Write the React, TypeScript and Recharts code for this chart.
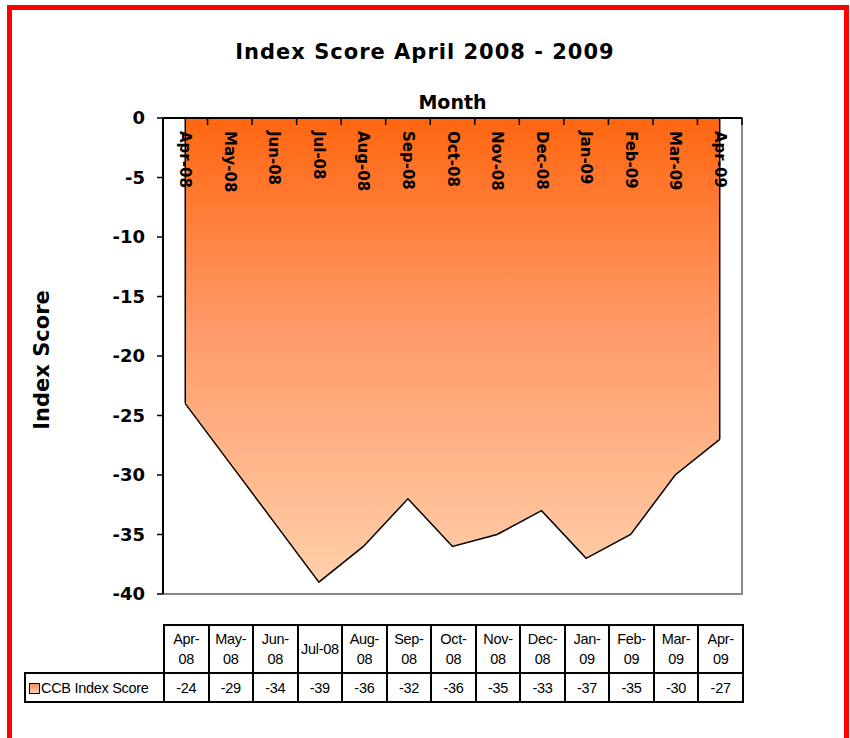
import {
  Area,
  AreaChart,
  ReferenceArea,
  ReferenceLine,
  XAxis,
  YAxis,
} from "recharts";

const months = [
  "Apr-08", "May-08", "Jun-08", "Jul-08", "Aug-08", "Sep-08", "Oct-08",
  "Nov-08", "Dec-08", "Jan-09", "Feb-09", "Mar-09", "Apr-09",
];
const scores = [-24, -29, -34, -39, -36, -32, -36, -35, -33, -37, -35, -30, -27];
const tableHeaders = [
  "Apr-\n08", "May-\n08", "Jun-\n08", "Jul-08", "Aug-\n08", "Sep-\n08", "Oct-\n08",
  "Nov-\n08", "Dec-\n08", "Jan-\n09", "Feb-\n09", "Mar-\n09", "Apr-\n09",
];
const yTicks = [0, -5, -10, -15, -20, -25, -30, -35, -40];
const seriesName = "CCB Index Score";

const data = months.map((m, i) => ({ month: m, score: scores[i] }));

const W = 850;
const H = 610;
const LEFT = 163;
const RIGHT = 108;
const PLOT_W = W - LEFT - RIGHT;
const COL = PLOT_W / months.length;
const HALF = COL / 2;
const TABLE_LEFT = 24;

const bold = "'DejaVu Sans', Verdana, sans-serif";
const narrow = "'Liberation Sans Narrow', 'Arial Narrow', 'Liberation Sans', Arial, sans-serif";

function MonthTick(props: any) {
  const { x, y, payload, index } = props;
  const last = index === months.length - 1;
  return (
    <g>
      <line x1={x - HALF} x2={x - HALF} y1={y} y2={y + 7} stroke="#000" strokeWidth={1.5} />
      {last && <line x1={x + HALF} x2={x + HALF} y1={y} y2={y + 7} stroke="#000" strokeWidth={1.5} />}
      <text
        x={x}
        y={y + 13}
        transform={`rotate(90, ${x}, ${y + 13})`}
        textAnchor="start"
        dominantBaseline="central"
        fontFamily={bold}
        fontWeight="bold"
        fontSize={15}
        fill="#000"
      >
        {payload.value}
      </text>
    </g>
  );
}

export default function App() {
  const cell: React.CSSProperties = {
    border: "2px solid #000",
    padding: 0,
    textAlign: "center",
    fontFamily: narrow,
    fontSize: 14.5,
    letterSpacing: -0.3,
    overflow: "hidden",
  };
  return (
    <div
      style={{
        position: "absolute",
        left: 0,
        top: 0,
        width: W,
        height: 738,
        overflow: "hidden",
        background: "#fff",
      }}
    >
      <div
        style={{
          position: "absolute",
          left: 7,
          top: 5,
          width: 842,
          height: 800,
          border: "5px solid #ff0000",
          boxSizing: "border-box",
        }}
      />
      <div
        style={{
          position: "absolute",
          left: 0,
          width: W,
          top: 40,
          textAlign: "center",
          fontFamily: bold,
          fontWeight: "bold",
          fontSize: 21,
          letterSpacing: 1,
        }}
      >
        Index Score April 2008 - 2009
      </div>
      <div
        style={{
          position: "absolute",
          left: LEFT,
          width: PLOT_W,
          top: 91,
          textAlign: "center",
          fontFamily: bold,
          fontWeight: "bold",
          fontSize: 19,
        }}
      >
        Month
      </div>
      <div
        style={{
          position: "absolute",
          left: 42,
          top: 360,
          transform: "translate(-50%, -50%) rotate(-90deg)",
          fontFamily: bold,
          fontWeight: "bold",
          fontSize: 21,
          whiteSpace: "nowrap",
        }}
      >
        Index Score
      </div>
      <div style={{ position: "absolute", left: 0, top: 0 }}>
        <AreaChart
          width={W}
          height={H}
          data={data}
          margin={{ top: 88, right: RIGHT, left: 0, bottom: 16 }}
        >
          <defs>
            <linearGradient id="scoreFill" x1="0" y1="0" x2="0" y2="1">
              <stop offset="0%" stopColor="#ff6610" />
              <stop offset="45%" stopColor="#ff9a68" />
              <stop offset="100%" stopColor="#ffcfaa" />
            </linearGradient>
          </defs>
          <XAxis xAxisId="frame" dataKey="month" hide />
          <ReferenceArea
            xAxisId="frame"
            y1={-40}
            y2={0}
            fill="none"
            stroke="#888"
            strokeWidth={2}
          />
          <XAxis
            dataKey="month"
            orientation="top"
            height={30}
            padding={{ left: HALF, right: HALF }}
            tickSize={0}
            tickMargin={0}
            axisLine={{ stroke: "#000", strokeWidth: 2 }}
            tick={<MonthTick />}
            interval={0}
          />
          <YAxis
            type="number"
            domain={[-40, 0]}
            ticks={yTicks}
            width={LEFT}
            tickSize={6}
            tickMargin={12}
            axisLine={{ stroke: "#000", strokeWidth: 2 }}
            tickLine={{ stroke: "#000", strokeWidth: 1.5 }}
            tick={{ fill: "#000", fontFamily: bold, fontWeight: "bold", fontSize: 18 }}
            interval={0}
          />
          <Area
            type="linear"
            dataKey="score"
            baseValue={0}
            stroke="#000"
            strokeWidth={1.5}
            fill="url(#scoreFill)"
            fillOpacity={1}
            dot={false}
            activeDot={false}
            isAnimationActive={false}
          />
          <ReferenceLine
            segment={[
              { x: months[0], y: 0 },
              { x: months[0], y: scores[0] },
            ]}
            stroke="#000"
            strokeWidth={1.5}
          />
          <ReferenceLine
            segment={[
              { x: months[months.length - 1], y: 0 },
              { x: months[months.length - 1], y: scores[scores.length - 1] },
            ]}
            stroke="#000"
            strokeWidth={1.5}
          />
        </AreaChart>
      </div>
      <table
        style={{
          position: "absolute",
          left: TABLE_LEFT,
          top: 624,
          width: LEFT + PLOT_W - TABLE_LEFT,
          borderCollapse: "collapse",
          tableLayout: "fixed",
        }}
      >
        <colgroup>
          <col style={{ width: LEFT - TABLE_LEFT }} />
          {months.map((m) => (
            <col key={m} style={{ width: COL }} />
          ))}
        </colgroup>
        <tbody>
          <tr style={{ height: 48 }}>
            <td style={{ padding: 0 }} />
            {tableHeaders.map((h) => (
              <td key={h} style={{ ...cell, whiteSpace: "pre-line", lineHeight: "20px" }}>
                {h}
              </td>
            ))}
          </tr>
          <tr style={{ height: 29 }}>
            <td style={{ ...cell, textAlign: "left", paddingLeft: 3, whiteSpace: "nowrap" }}>
              <span
                style={{
                  display: "inline-block",
                  width: 9,
                  height: 9,
                  border: "1px solid #000",
                  background: "linear-gradient(#ff8c50, #ffd2b0)",
                  marginRight: 1,
                  verticalAlign: "-1px",
                }}
              />
              {seriesName}
            </td>
            {scores.map((v, i) => (
              <td key={i} style={cell}>
                {v}
              </td>
            ))}
          </tr>
        </tbody>
      </table>
    </div>
  );
}
